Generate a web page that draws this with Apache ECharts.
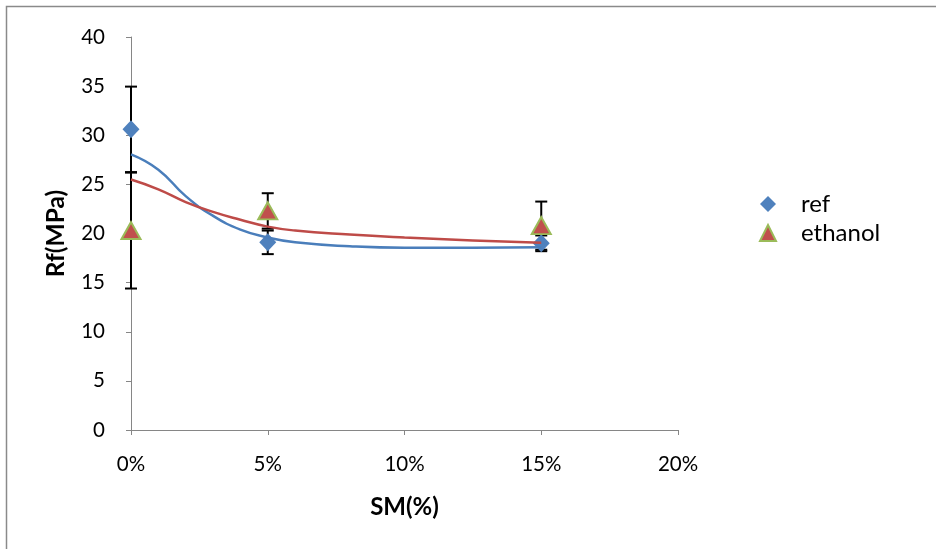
<!DOCTYPE html>
<html>
<head>
<meta charset="utf-8">
<script src="https://cdn.jsdelivr.net/npm/echarts@6/dist/echarts.min.js"></script>
<style>html,body{margin:0;padding:0;background:#fff}#c{width:936px;height:549px}</style>
</head>
<body>
<div id="c"></div>
<script>
// SM (%) positions of the measured points
const smValues = [0, 5, 15];
const refValues = [30.6, 19.1, 19.0];
const refErrors = [4.35, 1.2, 0.8];
const ethanolValues = [20.3, 22.3, 20.8];
const ethanolErrors = [5.9, 1.8, 2.45];
// trend curves
const trendX = [0, 1, 2, 3, 4, 5, 6, 8, 10, 12.5, 15];
const refTrendY = [28.06, 26.5, 23.8, 21.8, 20.4, 19.6, 19.1, 18.7, 18.55, 18.55, 18.6];
const ethTrendY = [25.5, 24.5, 23.2, 22.2, 21.4, 20.7, 20.3, 19.9, 19.6, 19.3, 19.05];
const xTicks = [0, 5, 10, 15, 20];

const FONT = 'Lato, "Open Sans", sans-serif';
const pairs = (xs, ys) => xs.map((x, i) => [x, ys[i]]);
const errData = (vals, errs) => smValues.map((x, i) => [x, vals[i], errs[i]]);

function errRender(params, api) {
  const x = api.value(0), y = api.value(1), e = api.value(2);
  const t = api.coord([x, y + e]), b = api.coord([x, y - e]);
  const hw = 6, st = {stroke: '#000', lineWidth: 2};
  return {type: 'group', children: [
    {type: 'line', shape: {x1: t[0], y1: t[1], x2: b[0], y2: b[1]}, style: st},
    {type: 'line', shape: {x1: t[0] - hw, y1: t[1], x2: t[0] + hw, y2: t[1]}, style: st},
    {type: 'line', shape: {x1: b[0] - hw, y1: b[1], x2: b[0] + hw, y2: b[1]}, style: st}
  ]};
}

const chart = echarts.init(document.getElementById('c'), null, {renderer: 'canvas'});
chart.setOption({
  animation: false,
  backgroundColor: '#fff',
  textStyle: {fontFamily: FONT},
  graphic: [{type: 'rect', silent: true, z: -10,
    shape: {x: 6.5, y: 6.5, width: 1200, height: 1200},
    style: {fill: 'none', stroke: '#8a8a8a', lineWidth: 1.5}}],
  grid: {left: 131, top: 37, right: 258, bottom: 119},
  xAxis: {
    type: 'value', min: 0, max: 20, interval: 5,
    name: 'SM(%)', nameLocation: 'middle', nameGap: 65,
    nameTextStyle: {fontSize: 24, fontWeight: 'bold', color: '#000', fontFamily: FONT},
    axisLine: {lineStyle: {color: '#868686', width: 1}},
    axisTick: {length: 5, lineStyle: {color: '#868686'}},
    splitLine: {show: false},
    axisLabel: {fontSize: 20.5, color: '#000', margin: 24, fontFamily: FONT,
      formatter: v => v + '%'}
  },
  yAxis: {
    type: 'value', min: 0, max: 40, interval: 5,
    name: 'Rf(MPa)', nameLocation: 'middle', nameGap: 62, nameRotate: 90,
    nameTextStyle: {fontSize: 24.5, fontWeight: 'bold', color: '#000', fontFamily: FONT},
    axisLine: {show: true, lineStyle: {color: '#868686', width: 1}},
    axisTick: {show: true, length: 5, lineStyle: {color: '#868686'}},
    splitLine: {show: false},
    axisLabel: {fontSize: 20.5, color: '#000', margin: 26, fontFamily: FONT}
  },
  legend: {
    orient: 'vertical', left: 754, top: 187, itemGap: 5,
    itemWidth: 16, itemHeight: 16,
    data: ['ref', 'ethanol'],
    textStyle: {fontSize: 24, color: '#000', fontFamily: FONT, padding: [0, 0, 0, 20]}
  },
  series: [
    {type: 'custom', name: 'refErr', renderItem: errRender, data: errData(refValues, refErrors), z: 1, silent: true},
    {type: 'custom', name: 'ethErr', renderItem: errRender, data: errData(ethanolValues, ethanolErrors), z: 1, silent: true},
    {type: 'scatter', name: 'ref', symbol: 'diamond', symbolSize: [17, 18], z: 3,
      itemStyle: {color: '#4F81BD', opacity: 1},
      data: pairs(smValues, refValues)},
    {type: 'scatter', name: 'ethanol', symbol: 'triangle', symbolSize: [19, 17], z: 3,
      itemStyle: {color: '#C0504D', borderColor: '#9BBB59', borderWidth: 2, opacity: 1},
      data: pairs(smValues, ethanolValues)},
    {type: 'line', name: 'refTrend', smooth: 0.5, showSymbol: false, z: 4, silent: true,
      lineStyle: {color: '#4A7EBB', width: 2.5}, itemStyle: {color: '#4A7EBB'},
      data: pairs(trendX, refTrendY)},
    {type: 'line', name: 'ethTrend', smooth: 0.5, showSymbol: false, z: 4, silent: true,
      lineStyle: {color: '#BE4B48', width: 2.5}, itemStyle: {color: '#BE4B48'},
      data: pairs(trendX, ethTrendY)}
  ]
});
</script>
</body>
</html>
